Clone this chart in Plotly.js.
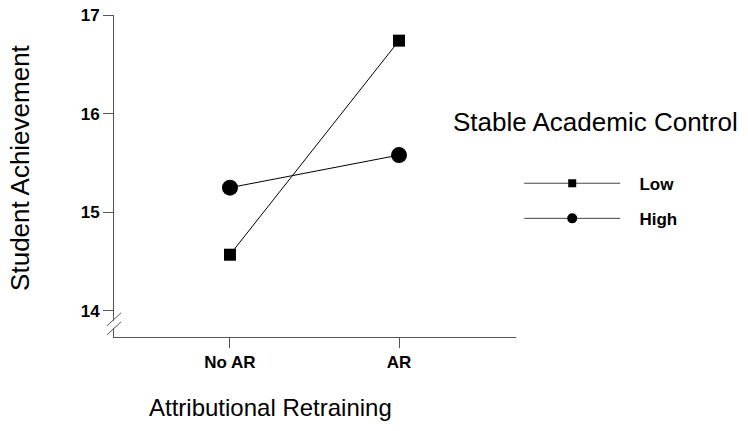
<!DOCTYPE html>
<html>
<head>
<meta charset="utf-8">
<script src="https://cdn.plot.ly/plotly-3.0.1.min.js"></script>
<style>html,body{margin:0;padding:0;background:#fff;}#chart{width:748px;height:431px;}</style>
</head>
<body>
<div id="chart"></div>
<script>
const categories = ["No AR", "AR"];
const lowValues = [14.57, 16.74];
const highValues = [15.25, 15.58];
const seriesNames = ["Low", "High"];
const yTicks = [14, 15, 16, 17];

const FONT = "Liberation Sans, Arial, Helvetica, sans-serif";
const PAD = "\u00A0\u00A0\u00A0";

const traces = [
  {x: categories, y: lowValues, type: "scatter", mode: "lines+markers", name: seriesNames[0],
   showlegend: false, line: {color: "#000", width: 1}, marker: {symbol: "square", size: 12, color: "#000"}},
  {x: categories, y: highValues, type: "scatter", mode: "lines+markers", name: seriesNames[1],
   showlegend: false, line: {color: "#000", width: 1}, marker: {symbol: "circle", size: 16, color: "#000"}},
  // legend entries
  {x: [null], y: [null], type: "scatter", mode: "lines+markers", name: PAD + seriesNames[0], legendgroup: "a",
   line: {color: "#444", width: 1}, marker: {symbol: "square", size: 8, color: "#000"}},
  {x: [null], y: [null], type: "scatter", mode: "lines+markers", name: PAD + seriesNames[1], legendgroup: "b",
   line: {color: "#444", width: 1}, marker: {symbol: "circle", size: 10, color: "#000"}}
];

const layout = {
  width: 748, height: 431,
  margin: {l: 114, r: 232, t: 15, b: 94},
  paper_bgcolor: "#fff", plot_bgcolor: "#fff",
  font: {family: FONT, color: "#000"},
  showlegend: true,
  legend: {
    x: 1.008, y: 0.532, xanchor: "left", yanchor: "top",
    itemwidth: 96, traceorder: "grouped", tracegroupgap: 10,
    font: {family: FONT, size: 17, color: "#000", weight: "bold"},
    bgcolor: "rgba(0,0,0,0)"
  },
  xaxis: {
    type: "category", range: [-0.686, 1.692],
    showline: true, linecolor: "#555", linewidth: 1,
    showgrid: false, zeroline: false,
    ticks: "outside", ticklen: 10, tickcolor: "#555", tickwidth: 1,
    tickfont: {family: FONT, size: 17, weight: "bold"}
  },
  yaxis: {
    range: [13.736, 17], tickvals: yTicks, ticktext: yTicks.map(String),
    showline: true, linecolor: "#555", linewidth: 1,
    showgrid: false, zeroline: false,
    ticks: "outside", ticklen: 10, tickcolor: "#555", tickwidth: 1,
    tickfont: {family: FONT, size: 17, weight: "bold"}
  },
  annotations: [
    {text: "Stable Academic Control", xref: "paper", yref: "paper", x: 0.838, y: 0.668,
     xanchor: "left", yanchor: "middle", showarrow: false, font: {family: FONT, size: 26, color: "#000"}},
    {text: "Attributional Retraining", xref: "paper", yref: "paper", x: 0.39, y: -0.22,
     xanchor: "center", yanchor: "middle", showarrow: false, font: {family: FONT, size: 24, color: "#000"}},
    {text: "Student Achievement", xref: "paper", yref: "paper", x: -0.234, y: 0.525, textangle: -90,
     xanchor: "center", yanchor: "middle", showarrow: false, font: {family: FONT, size: 26, color: "#000"}}
  ],
  shapes: [
    {type: "line", xref: "paper", yref: "y", xsizemode: "pixel", ysizemode: "pixel", xanchor: 0, yanchor: 13.9,
     x0: 0, x1: 0, y0: -7, y1: 0, line: {color: "#fff", width: 3}},
    {type: "line", xref: "paper", yref: "y", xsizemode: "pixel", ysizemode: "pixel", xanchor: 0, yanchor: 13.9,
     x0: -7, x1: 7, y0: -5, y1: 8, line: {color: "#555", width: 1}},
    {type: "line", xref: "paper", yref: "y", xsizemode: "pixel", ysizemode: "pixel", xanchor: 0, yanchor: 13.9,
     x0: -7, x1: 7, y0: -14, y1: -1, line: {color: "#555", width: 1}}
  ]
};

Plotly.newPlot("chart", traces, layout, {displayModeBar: false, staticPlot: true});
</script>
</body>
</html>
